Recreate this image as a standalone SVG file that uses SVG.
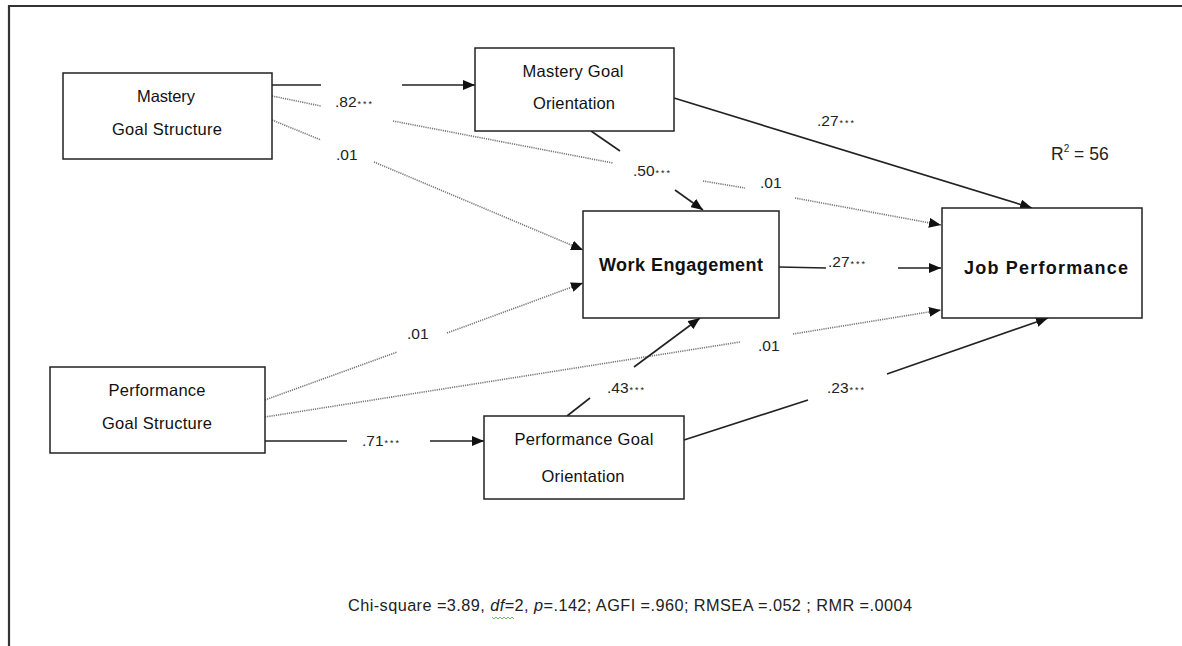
<svg xmlns="http://www.w3.org/2000/svg" width="1182" height="646" viewBox="0 0 1182 646">
<style>
.box{fill:#fff;stroke:#222;stroke-width:1.5}
.nt{font-family:"Liberation Sans",Arial,sans-serif;font-size:16.5px;fill:#111;text-anchor:middle}
.bt{font-family:"Liberation Sans",Arial,sans-serif;font-size:18px;font-weight:bold;fill:#111;text-anchor:middle}
.lb{font-family:"Liberation Sans",Arial,sans-serif;font-size:15.5px;fill:#222}
.st{font-size:9px;letter-spacing:2px}
.fs{font-family:"Liberation Sans",Arial,sans-serif;font-size:16.3px;fill:#222}
.r2{font-family:"Liberation Sans",Arial,sans-serif;font-size:17.5px;fill:#222}
.sol{stroke:#222;stroke-width:1.6;fill:none}
.dot{stroke:#777;stroke-width:1.6;stroke-dasharray:1.2 1;fill:none}
.arr{marker-end:url(#ah)}
.frame{stroke:#333;stroke-width:2.2;fill:none}
</style>
<defs>
<marker id="ah" viewBox="0 0 12 10" refX="12" refY="5" markerWidth="12" markerHeight="10" markerUnits="userSpaceOnUse" orient="auto">
<path d="M0,0 L12,5 L0,10 z" fill="#111"/>
</marker>
</defs>
<rect width="1182" height="646" fill="#fff"/>
<path class="frame" d="M9,646 V6 H1182"/>

<g id="connectors">
<line class="sol" x1="272" y1="85" x2="321" y2="85"/>
<line class="sol arr" x1="402" y1="85" x2="475" y2="85"/>

<line class="dot" x1="272" y1="96" x2="321" y2="106"/>
<line class="dot" x1="393" y1="121" x2="613" y2="163"/>
<line class="dot" x1="703" y1="181" x2="745" y2="188"/>
<line class="dot arr" x1="795" y1="198" x2="941" y2="225"/>

<line class="dot" x1="272" y1="120" x2="321" y2="140"/>
<line class="dot arr" x1="374" y1="162" x2="583" y2="250"/>

<line class="sol" x1="591" y1="131" x2="620" y2="151"/>
<line class="sol arr" x1="675" y1="190" x2="703" y2="210"/>

<line class="sol arr" x1="674" y1="98" x2="1032" y2="208"/>

<line class="sol" x1="779" y1="267" x2="826" y2="268"/>
<line class="sol arr" x1="898" y1="268" x2="941" y2="268"/>

<line class="dot" x1="265" y1="400" x2="397" y2="352"/>
<line class="dot arr" x1="447" y1="333" x2="583" y2="283"/>

<line class="dot" x1="265" y1="417" x2="740" y2="342"/>
<line class="dot arr" x1="793" y1="334" x2="941" y2="310"/>

<line class="sol" x1="265" y1="441" x2="347" y2="441"/>
<line class="sol arr" x1="430" y1="441" x2="484" y2="441"/>

<line class="sol" x1="567" y1="416" x2="590" y2="398"/>
<line class="sol arr" x1="634" y1="367" x2="700" y2="318"/>

<line class="sol" x1="684" y1="440" x2="808" y2="400"/>
<line class="sol arr" x1="887" y1="374" x2="1048" y2="318"/>

<text class="lb" x="335" y="107">.82<tspan class="st" dx="1">***</tspan></text>
<text class="lb" x="336" y="160">.01</text>
<text class="lb" x="633" y="176">.50<tspan class="st" dx="1">***</tspan></text>
<text class="lb" x="760" y="188">.01</text>
<text class="lb" x="817" y="126">.27<tspan class="st" dx="1">***</tspan></text>
<text class="lb" x="828" y="267">.27<tspan class="st" dx="1">***</tspan></text>
<text class="lb" x="407" y="339">.01</text>
<text class="lb" x="758" y="351">.01</text>
<text class="lb" x="362" y="446">.71<tspan class="st" dx="1">***</tspan></text>
<text class="lb" x="607" y="393">.43<tspan class="st" dx="1">***</tspan></text>
<text class="lb" x="827" y="393">.23<tspan class="st" dx="1">***</tspan></text>
</g>

<g id="mastery-goal-structure">
<rect class="box" x="63" y="73" width="209" height="86"/>
<text class="nt" x="166" y="102" textLength="58">Mastery</text>
<text class="nt" x="167" y="135" textLength="110">Goal Structure</text>
</g>

<g id="mastery-goal-orientation">
<rect class="box" x="475" y="48" width="199" height="83"/>
<text class="nt" x="573" y="77" textLength="101">Mastery Goal</text>
<text class="nt" x="574" y="109" textLength="82">Orientation</text>
</g>

<g id="work-engagement">
<rect class="box" x="583" y="211" width="196" height="107"/>
<text class="bt" x="681" y="271" textLength="164">Work Engagement</text>
</g>

<g id="job-performance">
<rect class="box" x="942" y="208" width="200" height="110"/>
<text class="bt" x="1046" y="274" textLength="164">Job Performance</text>
</g>

<g id="performance-goal-structure">
<rect class="box" x="50" y="367" width="215" height="86"/>
<text class="nt" x="157" y="396" textLength="97">Performance</text>
<text class="nt" x="157" y="429" textLength="110">Goal Structure</text>
</g>

<g id="performance-goal-orientation">
<rect class="box" x="484" y="416" width="200" height="83"/>
<text class="nt" x="584" y="445" textLength="139">Performance Goal</text>
<text class="nt" x="583" y="482" textLength="83">Orientation</text>
</g>

<g id="r-squared">
<text class="r2" x="1051" y="160">R<tspan font-size="10" dy="-8">2</tspan><tspan dy="8"> = 56</tspan></text>
</g>

<g id="fit-stats">
<text class="fs" x="348" y="611" textLength="564">Chi-square =3.89, <tspan font-style="italic">df</tspan>=2, <tspan font-style="italic">p</tspan>=.142; AGFI =.960; RMSEA =.052 ; RMR =.0004</text>
<polyline points="492,617 494,619 496,617 498,619 500,617 502,619 504,617 506,619 508,617 510,619 512,617 514,619" fill="none" stroke="#4a4" stroke-width="0.8"/>
</g>
</svg>
